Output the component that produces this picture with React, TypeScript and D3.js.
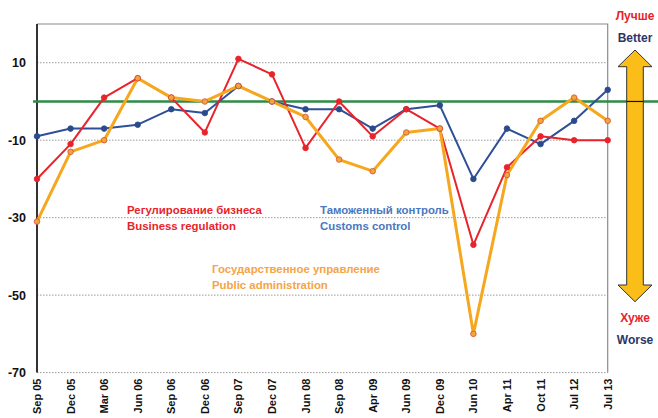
import { useEffect, useRef } from 'react';
import * as d3 from 'd3';

const periods = ['Sep 05', 'Dec 05', 'Mar 06', 'Jun 06', 'Sep 06', 'Dec 06', 'Sep 07', 'Dec 07', 'Jun 08', 'Sep 08', 'Apr 09', 'Jun 09', 'Dec 09', 'Jun 10', 'Apr 11', 'Oct 11', 'Jul 12', 'Jul 13'];
const businessRegulation = [-20, -11, 1, 6, 1, -8, 11, 7, -12, 0, -9, -2, -7, -37, -17, -9, -10, -10];
const customsControl = [-9, -7, -7, -6, -2, -3, 4, 0, -2, -2, -7, -2, -1, -20, -7, -11, -5, 3];
const publicAdministration = [-31, -13, -10, 6, 1, 0, 4, 0, -4, -15, -18, -8, -7, -60, -19, -5, 1, -5];
const yTicks = [10, -10, -30, -50, -70];

const FONT = '"Liberation Sans", Arial, sans-serif';

const App = () => {
  const svgRef = useRef<SVGSVGElement>(null);
  const width = 658;
  const height = 418;

  useEffect(() => {
    if (!svgRef.current) return;
    const svg = d3.select(svgRef.current);
    svg.selectAll('*').remove();

    const left = 37, right = 607.7, top = 24, bottom = 372.6;

    const x = d3.scalePoint<string>().domain(periods).range([left, right]);
    const y = d3.scaleLinear().domain([-70, 20]).range([bottom, top]);

    // frame
    svg.append('path')
      .attr('d', `M${left},${top}H${right}V${bottom}`)
      .attr('fill', 'none')
      .attr('stroke', '#8a8a8a')
      .attr('stroke-width', 1.2);

    // grid
    svg.append('g')
      .selectAll('line')
      .data(yTicks)
      .enter().append('line')
      .attr('x1', left).attr('x2', right)
      .attr('y1', d => y(d)).attr('y2', d => y(d))
      .attr('stroke', '#9a9a9a')
      .attr('stroke-width', 1)
      .attr('stroke-dasharray', '1.5,1.5');

    // y labels
    svg.append('g')
      .selectAll('text')
      .data(yTicks)
      .enter().append('text')
      .attr('x', 26)
      .attr('y', d => y(d) + 4.5)
      .attr('text-anchor', 'end')
      .attr('font-family', FONT)
      .attr('font-weight', 'bold')
      .attr('font-size', 12.5)
      .attr('fill', '#111')
      .text(d => d);

    // left axis
    svg.append('line')
      .attr('x1', left).attr('x2', left)
      .attr('y1', top).attr('y2', bottom)
      .attr('stroke', '#333')
      .attr('stroke-width', 2);

    // x labels
    svg.append('g')
      .selectAll('text')
      .data(periods)
      .enter().append('text')
      .attr('transform', d => `translate(${(x(d) ?? 0) + 4},${bottom + 6}) rotate(-90)`)
      .attr('text-anchor', 'end')
      .attr('font-family', FONT)
      .attr('font-weight', 'bold')
      .attr('font-size', 11)
      .attr('fill', '#111')
      .text(d => d);

    // zero line
    svg.append('line')
      .attr('x1', 33).attr('x2', width)
      .attr('y1', y(0)).attr('y2', y(0))
      .attr('stroke', '#2e8b47')
      .attr('stroke-width', 2.5);

    const line = d3.line<number>()
      .x((_, i) => x(periods[i]) ?? 0)
      .y(d => y(d));

    const series = [
      { data: customsControl, color: '#2f4f98', width: 2, fill: '#2a4a8c', stroke: '#2a4a8c' },
      { data: businessRegulation, color: '#e8232b', width: 2, fill: '#e8232b', stroke: '#e8232b' },
      { data: publicAdministration, color: '#f6a71d', width: 3, fill: '#f3a43a', stroke: '#d2503a' },
    ];

    series.forEach(s => {
      svg.append('path')
        .datum(s.data)
        .attr('d', line)
        .attr('fill', 'none')
        .attr('stroke', s.color)
        .attr('stroke-width', s.width)
        .attr('stroke-linejoin', 'round');
    });

    series.forEach(s => {
      svg.append('g')
        .selectAll('circle')
        .data(s.data)
        .enter().append('circle')
        .attr('cx', (_, i) => x(periods[i]) ?? 0)
        .attr('cy', d => y(d))
        .attr('r', 2.8)
        .attr('fill', s.fill)
        .attr('stroke', s.stroke)
        .attr('stroke-width', 0.8);
    });

    // legend labels
    const labels = [
      { text: 'Регулирование бизнеса', x: 127, y: 214, color: '#e8232b' },
      { text: 'Business regulation', x: 127, y: 230, color: '#e8232b' },
      { text: 'Таможенный контроль', x: 320, y: 214, color: '#4a78bf' },
      { text: 'Customs control', x: 320, y: 230, color: '#4a78bf' },
      { text: 'Государственное управление', x: 212, y: 273, color: '#f5a446' },
      { text: 'Public administration', x: 212, y: 289, color: '#f5a446' },
    ];
    svg.append('g')
      .selectAll('text')
      .data(labels)
      .enter().append('text')
      .attr('x', d => d.x)
      .attr('y', d => d.y)
      .attr('font-family', FONT)
      .attr('font-weight', 'bold')
      .attr('font-size', 11.4)
      .attr('fill', d => d.color)
      .text(d => d.text);

    // better / worse arrow
    const cx = 635, hw = 17, sw = 8.3, tipTop = 50, baseTop = 66.7, baseBot = 285, tipBot = 301.7;
    svg.append('path')
      .attr('d', `M${cx},${tipTop}L${cx + hw},${baseTop}H${cx + sw}V${baseBot}H${cx + hw}L${cx},${tipBot}L${cx - hw},${baseBot}H${cx - sw}V${baseTop}H${cx - hw}Z`)
      .attr('fill', '#fbbd17')
      .attr('stroke', '#333')
      .attr('stroke-width', 1);
    svg.append('line')
      .attr('x1', cx - sw).attr('x2', cx + sw)
      .attr('y1', y(0)).attr('y2', y(0))
      .attr('stroke', '#111')
      .attr('stroke-width', 1.2);

    const sideText = [
      { text: 'Лучше', y: 20, color: '#e8232b' },
      { text: 'Better', y: 41.5, color: '#2b3668' },
      { text: 'Хуже', y: 322, color: '#e8232b' },
      { text: 'Worse', y: 343.5, color: '#2b3668' },
    ];
    svg.append('g')
      .selectAll('text')
      .data(sideText)
      .enter().append('text')
      .attr('x', cx)
      .attr('y', d => d.y)
      .attr('text-anchor', 'middle')
      .attr('font-family', FONT)
      .attr('font-weight', 'bold')
      .attr('font-size', 12)
      .attr('fill', d => d.color)
      .text(d => d.text);
  }, []);

  return (
    <svg
      ref={svgRef}
      width={width}
      height={height}
      style={{ position: 'absolute', left: 0, top: 0, background: '#fff' }}
    />
  );
};

export default App;
